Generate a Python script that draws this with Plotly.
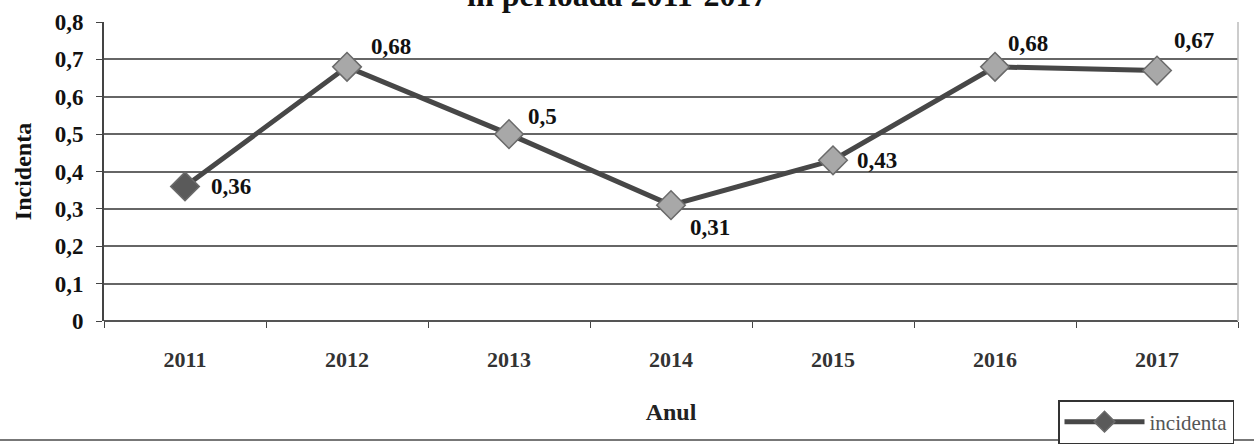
import plotly.graph_objects as go

# Incidence per year, 2011-2017
years = ["2011", "2012", "2013", "2014", "2015", "2016", "2017"]
incidenta = [0.36, 0.68, 0.5, 0.31, 0.43, 0.68, 0.67]
label_text = ["0,36", "0,68", "0,5", "0,31", "0,43", "0,68", "0,67"]
# label offsets from the marker centre, in px (right, up)
label_dx = [24, 22, 17, 17, 22, 11, 15]
label_dy = [0, 20, 18, -22, 0, 23, 30]
y_ticks = [0, 0.1, 0.2, 0.3, 0.4, 0.5, 0.6, 0.7, 0.8]
y_tick_text = ["0", "0,1", "0,2", "0,3", "0,4", "0,5", "0,6", "0,7", "0,8"]

serif = "Liberation Serif, Times New Roman, serif"

marker_fill = ["#5a5a5a"] + ["#a8a8a8"] * (len(years) - 1)

fig = go.Figure()
fig.add_trace(go.Scatter(
    x=years,
    y=incidenta,
    mode="lines+markers",
    name="incidenta",
    line=dict(color="#474747", width=5),
    marker=dict(symbol="diamond", size=22, color=marker_fill,
                line=dict(color="#6a6a6a", width=1.5)),
    cliponaxis=False,
))

# value labels, placed at each category's position on the x axis
value_labels = [
    dict(
        x=i, y=v, xref="x", yref="y",
        text="<b>%s</b>" % t,
        showarrow=False,
        xanchor="left", yanchor="middle",
        xshift=dx, yshift=dy,
        font=dict(family=serif, size=23, color="#111111"),
    )
    for i, (v, t, dx, dy) in enumerate(zip(incidenta, label_text, label_dx, label_dy))
]

# second line of the chart heading, running off the top edge of the page
title_line = dict(
    text="<b>in perioada 2011-2017</b>",
    xref="paper", yref="paper",
    x=0.452, y=1.0 + 7 / 299, xanchor="center", yanchor="bottom",
    showarrow=False,
    font=dict(family=serif, size=32, color="#111111"),
)

fig.update_layout(
    width=1254,
    height=446,
    margin=dict(l=104, r=16, t=22, b=125, autoexpand=False),
    paper_bgcolor="white",
    plot_bgcolor="white",
    showlegend=True,
    legend=dict(
        x=(1234 - 104) / 1134, xanchor="right",
        y=-(400 - 321) / 299, yanchor="top",
        bordercolor="#333333", borderwidth=1.5,
        bgcolor="white",
        font=dict(family=serif, size=21, color="#555555"),
        itemwidth=80,
        tracegroupgap=0,
    ),
    xaxis=dict(
        type="category",
        categoryorder="array",
        categoryarray=years,
        range=[-0.5, len(years) - 0.5],
        tickson="boundaries",
        ticks="outside",
        ticklen=6,
        tickcolor="#444444",
        tickangle=0,
        showgrid=False,
        showline=False,
        ticklabelstandoff=23,
        tickfont=dict(family=serif, size=22, color="#333333"),
        tickprefix="<b>", ticksuffix="</b>",
        title=dict(text="<b>Anul</b>", font=dict(family=serif, size=24, color="#222222"),
                   standoff=32),
        zeroline=False,
    ),
    yaxis=dict(
        range=[0, 0.8],
        tickvals=y_ticks,
        ticktext=["<b>%s</b>" % t for t in y_tick_text],
        ticks="outside",
        ticklen=6,
        tickcolor="#444444",
        showline=True,
        linecolor="#444444",
        linewidth=2,
        showgrid=True,
        gridcolor="#666666",
        gridwidth=2,
        zeroline=True,
        zerolinecolor="#555555",
        zerolinewidth=2,
        ticklabelstandoff=8,
        tickfont=dict(family=serif, size=23, color="#111111"),
        title=dict(text="<b>Incidenta</b>", font=dict(family=serif, size=24, color="#111111"),
                   standoff=16),
    ),
    annotations=value_labels + [title_line],
    shapes=[
        # right edge of the plot frame
        dict(type="line", xref="paper", yref="paper", x0=1, x1=1, y0=0, y1=1,
             line=dict(color="#bbbbbb", width=1.5)),
        # bottom rule under the chart
        dict(type="line", xref="paper", yref="paper", x0=-0.1, x1=1.02,
             y0=-119 / 299, y1=-119 / 299, line=dict(color="#777777", width=2)),
    ],
)

fig.write_html("out.html")
